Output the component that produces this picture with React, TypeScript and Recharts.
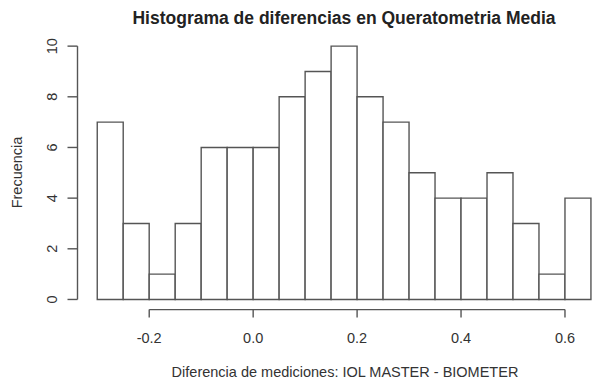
import React from "react";
import {
  ComposedChart,
  Bar,
  XAxis,
  YAxis,
  ReferenceLine,
  Label,
} from "recharts";

// Histogram bins (left edges) and their counts
const binStarts = [
  -0.3, -0.25, -0.2, -0.15, -0.1, -0.05, 0.0, 0.05, 0.1, 0.15, 0.2, 0.25, 0.3,
  0.35, 0.4, 0.45, 0.5, 0.55, 0.6,
];
const counts = [7, 3, 1, 3, 6, 6, 6, 8, 9, 10, 8, 7, 5, 4, 4, 5, 3, 1, 4];
const binWidth = 0.05;

const xTicks = [-0.2, 0.0, 0.2, 0.4, 0.6];
const yTicks = [0, 2, 4, 6, 8, 10];

const title = "Histograma de diferencias en Queratometria Media";
const xTitle = "Diferencia de mediciones: IOL MASTER - BIOMETER";
const yTitle = "Frecuencia";

const data = binStarts.map((s, i) => ({
  mid: s + binWidth / 2,
  count: counts[i],
}));

const W = 592;
const H = 385;
const FONT = "'Liberation Sans', Arial, Helvetica, sans-serif";
const INK = "#333";
const LINE = "#555";
const FS = 14.5;

const margin = { top: 36, right: 0, bottom: 0, left: 0 };
const yAxisWidth = 77.5;
const xAxisHeight = 75.4;
const axisY = H - xAxisHeight;
const axisX = margin.left + yAxisWidth;
const xDomain: [number, number] = [-0.338, 0.652];
const yDomain: [number, number] = [-0.4, 10.4];

const plotWidth = W - margin.left - margin.right - yAxisWidth;
// one bin's width in pixels; kept a hair under the band so bars sit edge to edge
const barPx = (binWidth * plotWidth) / (xDomain[1] - xDomain[0]) - 0.02;

const fmtX = (v: number) => v.toFixed(1);

const XTick = (props: any) => {
  const { x, payload } = props;
  return (
    <g>
      <line x1={x} y1={axisY} x2={x} y2={axisY + 8} stroke={LINE} strokeWidth={1.4} />
      <text
        x={x}
        y={axisY + 33}
        textAnchor="middle"
        fontFamily={FONT}
        fontSize={FS}
        fill={INK}
      >
        {fmtX(payload.value)}
      </text>
    </g>
  );
};

const YTick = (props: any) => {
  const { y, payload } = props;
  const tx = 57;
  return (
    <g>
      <line x1={axisX - 10} y1={y} x2={axisX} y2={y} stroke={LINE} strokeWidth={1.4} />
      <text
        x={tx}
        y={y}
        transform={`rotate(-90, ${tx}, ${y})`}
        textAnchor="middle"
        fontFamily={FONT}
        fontSize={FS}
        fill={INK}
      >
        {String(payload.value)}
      </text>
    </g>
  );
};

export default function App() {
  return (
    <div style={{ position: "absolute", left: 0, top: 0, width: W, height: H, background: "#fff" }}>
      <ComposedChart
        width={W}
        height={H}
        data={data}
        margin={margin}
        barCategoryGap={0}
        barGap={0}
      >
        <XAxis
          dataKey="mid"
          type="number"
          domain={xDomain}
          ticks={xTicks}
          allowDataOverflow
          axisLine={false}
          tickLine={false}
          tick={<XTick />}
          height={xAxisHeight}
          interval={0}
        >
          <Label
            content={() => (
              <text
                x={345}
                y={377}
                textAnchor="middle"
                fontFamily={FONT}
                fontSize={FS}
                fill={INK}
              >
                {xTitle}
              </text>
            )}
          />
        </XAxis>
        <YAxis
          type="number"
          domain={yDomain}
          ticks={yTicks}
          allowDataOverflow
          axisLine={false}
          tickLine={false}
          tick={<YTick />}
          width={yAxisWidth}
          interval={0}
        >
          <Label
            content={() => (
              <text
                x={22}
                y={172.5}
                transform="rotate(-90, 22, 172.5)"
                textAnchor="middle"
                fontFamily={FONT}
                fontSize={FS}
                fill={INK}
              >
                {yTitle}
              </text>
            )}
          />
        </YAxis>
        <Bar
          dataKey="count"
          fill="#fff"
          stroke={LINE}
          strokeWidth={1.4}
          barSize={barPx}
          isAnimationActive={false}
        />
        <ReferenceLine
          segment={[
            { x: xTicks[0], y: yDomain[0] },
            { x: xTicks[xTicks.length - 1], y: yDomain[0] },
          ]}
          stroke={LINE}
          strokeWidth={1.4}
          ifOverflow="visible"
        />
        <ReferenceLine
          segment={[
            { x: xDomain[0], y: yTicks[0] },
            { x: xDomain[0], y: yTicks[yTicks.length - 1] },
          ]}
          stroke={LINE}
          strokeWidth={1.4}
          ifOverflow="visible"
        />
        <text
          x={344}
          y={24}
          textAnchor="middle"
          fontFamily={FONT}
          fontSize={17.5}
          fontWeight="bold"
          fill="#222"
        >
          {title}
        </text>
      </ComposedChart>
    </div>
  );
}
